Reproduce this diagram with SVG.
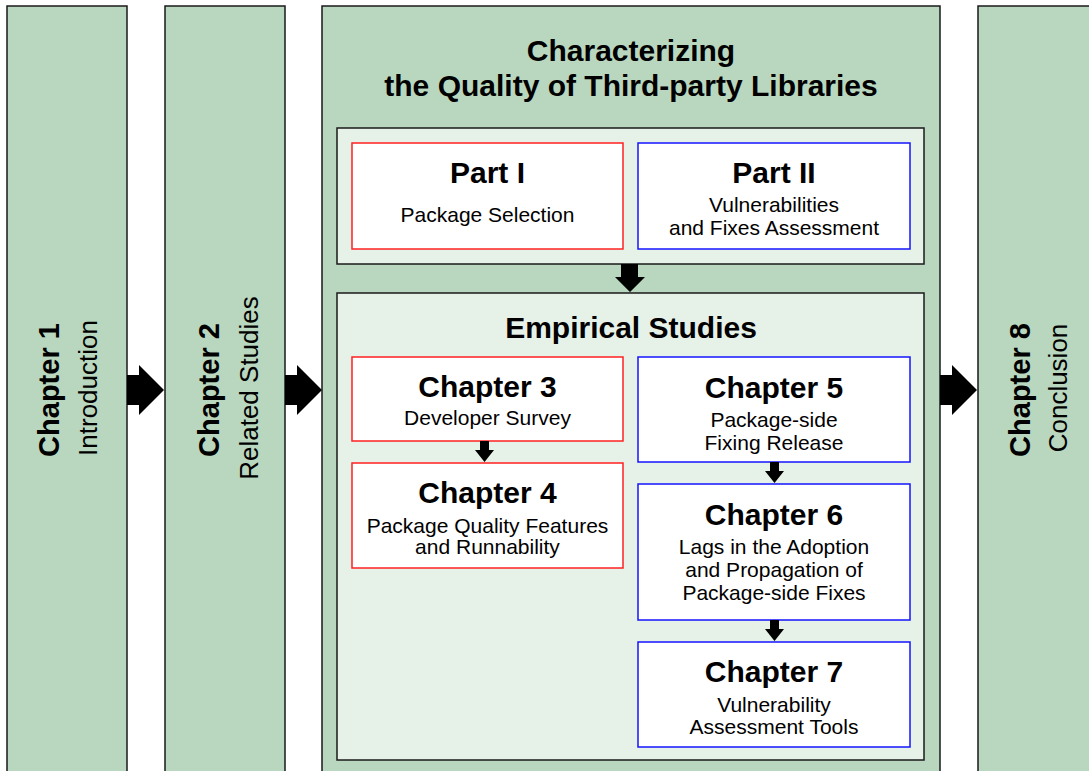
<svg xmlns="http://www.w3.org/2000/svg" width="1089" height="771" viewBox="0 0 1089 771">
  <defs>
    <style>
      .col { fill: #b9d7be; stroke: #1a1a1a; stroke-width: 1.5; }
      .panel { fill: #e6f1e7; stroke: #1a1a1a; stroke-width: 1.5; }
      .red { fill: #ffffff; stroke: #ff2020; stroke-width: 1.5; }
      .blue { fill: #ffffff; stroke: #1515ff; stroke-width: 1.5; }
      text { font-family: "Liberation Sans", Arial, Helvetica, sans-serif; fill: #000000; text-anchor: middle; }
      .h { font-weight: bold; font-size: 30px; }
      .vh { font-weight: bold; font-size: 29px; }
      .s { font-size: 21px; }
      .vs { font-size: 26px; }
      .arrow { fill: #000000; }
    </style>
  </defs>

  <rect width="1089" height="771" fill="#ffffff"/>

  <!-- Chapter 1 column -->
  <g id="chapter1">
    <rect class="col" x="7" y="6" width="120" height="780"/>
    <text class="vh" transform="translate(59,390) rotate(-90)">Chapter 1</text>
    <text class="vs" transform="translate(97,388) rotate(-90)">Introduction</text>
  </g>

  <!-- Chapter 2 column -->
  <g id="chapter2">
    <rect class="col" x="165" y="6" width="120" height="780"/>
    <text class="vh" transform="translate(219,390) rotate(-90)">Chapter 2</text>
    <text class="vs" transform="translate(258,388) rotate(-90)">Related Studies</text>
  </g>

  <!-- Central column: thesis core -->
  <g id="core">
    <rect class="col" x="322" y="6" width="618" height="780"/>
    <text class="h" x="631" y="61">Characterizing</text>
    <text class="h" x="631" y="96">the Quality of Third-party Libraries</text>
  </g>

  <g id="parts">
    <rect class="panel" x="337" y="128" width="587" height="136"/>
  </g>

  <g id="part1">
    <rect class="red" x="352" y="143" width="271" height="106"/>
    <text class="h" x="487.5" y="183">Part I</text>
    <text class="s" x="487.5" y="222">Package Selection</text>
  </g>

  <g id="part2">
    <rect class="blue" x="638" y="143" width="272" height="106"/>
    <text class="h" x="774" y="183">Part II</text>
    <text class="s" x="774" y="212">Vulnerabilities</text>
    <text class="s" x="774" y="235">and Fixes Assessment</text>
  </g>

  <g id="empirical">
    <rect class="panel" x="337" y="293" width="587" height="467"/>
    <text class="h" x="631" y="338">Empirical Studies</text>
  </g>

  <g id="chapter3">
    <rect class="red" x="352" y="357" width="271" height="84"/>
    <text class="h" x="487.5" y="397">Chapter 3</text>
    <text class="s" x="487.5" y="425">Developer Survey</text>
  </g>

  <g id="chapter4">
    <rect class="red" x="352" y="463" width="271" height="105"/>
    <text class="h" x="487.5" y="503">Chapter 4</text>
    <text class="s" x="487.5" y="533">Package Quality Features</text>
    <text class="s" x="487.5" y="554">and Runnability</text>
  </g>

  <g id="chapter5">
    <rect class="blue" x="638" y="357" width="272" height="105"/>
    <text class="h" x="774" y="398">Chapter 5</text>
    <text class="s" x="774" y="427">Package-side</text>
    <text class="s" x="774" y="450">Fixing Release</text>
  </g>

  <g id="chapter6">
    <rect class="blue" x="638" y="484" width="272" height="136"/>
    <text class="h" x="774" y="525">Chapter 6</text>
    <text class="s" x="774" y="554">Lags in the Adoption</text>
    <text class="s" x="774" y="577">and Propagation of</text>
    <text class="s" x="774" y="600">Package-side Fixes</text>
  </g>

  <g id="chapter7">
    <rect class="blue" x="638" y="642" width="272" height="105"/>
    <text class="h" x="774" y="682">Chapter 7</text>
    <text class="s" x="774" y="712">Vulnerability</text>
    <text class="s" x="774" y="734">Assessment Tools</text>
  </g>

  <!-- Chapter 8 column -->
  <g id="chapter8">
    <rect class="col" x="978" y="6" width="120" height="780"/>
    <text class="vh" transform="translate(1030,390) rotate(-90)">Chapter 8</text>
    <text class="vs" transform="translate(1067,388) rotate(-90)">Conclusion</text>
  </g>

  <!-- Block arrows linking the chapters -->
  <g id="connectors">
    <polygon class="arrow" points="127,375 139,375 139,365 164,390 139,415 139,405 127,405"/>
    <polygon class="arrow" points="285,375 297,375 297,365 322,390 297,415 297,405 285,405"/>
    <polygon class="arrow" points="940,375 952,375 952,365 977,390 952,415 952,405 940,405"/>
    <polygon class="arrow" points="621,264 638,264 638,277 645,277 630,292 615,277 621,277"/>
    <polygon class="arrow" points="480,441 489,441 489,450 494,450 484.5,462 475,450 480,450"/>
    <polygon class="arrow" points="770,462 779,462 779,471 784,471 774.5,483 765,471 770,471"/>
    <polygon class="arrow" points="770,620 779,620 779,629 784,629 774.5,641 765,629 770,629"/>
  </g>
</svg>
